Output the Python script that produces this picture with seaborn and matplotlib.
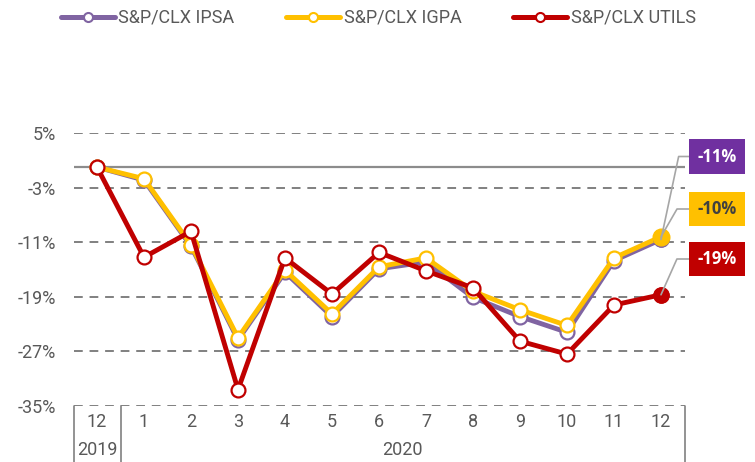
import numpy as np
import pandas as pd
import matplotlib
matplotlib.use("Agg")
import matplotlib.pyplot as plt
import matplotlib.transforms as mtransforms
import seaborn as sns

# ---- data ----
months = ["12", "1", "2", "3", "4", "5", "6", "7", "8", "9", "10", "11", "12"]
years = ["2019", "2020"]
ipsa = [0.0, -1.9, -11.6, -25.3, -15.4, -21.9, -14.9, -13.9, -19.1, -21.9, -24.2, -13.7, -10.6]
igpa = [0.0, -1.7, -11.4, -25.0, -15.1, -21.5, -14.6, -13.3, -18.2, -20.9, -23.2, -13.3, -10.2]
utils = [0.0, -13.2, -9.4, -32.6, -13.3, -18.6, -12.5, -15.2, -17.7, -25.5, -27.4, -20.2, -18.7]
series_names = ["S&P/CLX IPSA", "S&P/CLX IGPA", "S&P/CLX UTILS"]
end_labels = ["-11%", "-10%", "-19%"]
yticks = [5, -3, -11, -19, -27, -35]

line_colors = ["#8064A2", "#FFC000", "#C00000"]
box_colors = ["#7030A0", "#FFC000", "#C00000"]
box_text_colors = ["white", "#404040", "white"]

sns.set_theme(style="white")
plt.rcParams["font.family"] = ["Roboto", "DejaVu Sans"]
gray_txt = "#595959"

fig = plt.figure(figsize=(7.55, 4.62), dpi=100)
ax = fig.add_axes([73.5 / 755, 56 / 462, 611 / 755, 273 / 462])

x = np.arange(len(months))
df = pd.DataFrame({"x": x, "ipsa": ipsa, "igpa": igpa, "utils": utils})

# grid lines
for yt in yticks:
    ax.axhline(yt, color="#808080", lw=1.4, ls=(0, (4.5, 3.5)), zorder=0)
ax.axhline(0, color="#8C8C8C", lw=1.6, zorder=0.5)

handles = []
for col, name, c in zip(["ipsa", "igpa", "utils"], series_names, line_colors):
    sns.lineplot(data=df, x="x", y=col, ax=ax, color=c, lw=3.5, marker="o",
                 markersize=10, markerfacecolor="white", markeredgecolor=c,
                 markeredgewidth=1.6, zorder=3)
    last = df[col].iloc[-1]
    ax.plot([x[-1]], [last], "o", ms=12 if col == "igpa" else 11, color=c, zorder=4)
    h, = ax.plot([], [], color=c, lw=3.6, marker="o", ms=6.5, mfc="white", mec=c, mew=1.5)
    handles.append(h)

ax.set_xlim(-0.5, len(months) - 0.5)
ax.set_ylim(-35, 5)
ax.set_xlabel("")
ax.set_ylabel("")
ax.set_yticks(yticks)
ax.set_yticklabels([f"{v}%" for v in yticks], color=gray_txt, fontsize=13)
ax.set_xticks(x)
ax.set_xticklabels(months, color=gray_txt, fontsize=13)
ax.tick_params(axis="x", length=0, pad=5)
ax.tick_params(axis="y", length=0, pad=12.5)
for s in ax.spines.values():
    s.set_visible(False)

# category axis separators and year labels
trans = mtransforms.blended_transform_factory(ax.transData, ax.transAxes)
for xv in [-0.5, 0.5, len(months) - 0.5]:
    ax.plot([xv, xv], [0, -0.21], transform=trans, color="#808080", lw=1.2, clip_on=False)
ax.text(0, -0.163, years[0], transform=trans, ha="center", va="center",
        color=gray_txt, fontsize=13)
ax.text((1 + len(months) - 1) / 2, -0.163, years[1], transform=trans, ha="center",
        va="center", color=gray_txt, fontsize=13)

# end labels with leader lines
label_y = [1 - 156.5 / 462, 1 - 209 / 462, 1 - 259 / 462]
angles = [78, 60, 66]
for vals, lab, bc, tc, ly, ang in zip([ipsa, igpa, utils], end_labels, box_colors,
                                      box_text_colors, label_y, angles):
    ax.annotate(lab, xy=(x[-1], vals[-1]), xycoords="data",
                xytext=(717 / 755, ly), textcoords="figure fraction",
                ha="center", va="center", fontsize=12, fontweight="bold",
                color=tc, family=["Open Sans", "DejaVu Sans"],
                bbox=dict(boxstyle="square,pad=0.5", fc=bc, ec="none"),
                arrowprops=dict(arrowstyle="-", color="#A6A6A6", lw=1.2,
                                shrinkA=0, shrinkB=0,
                                connectionstyle=f"angle,angleA=0,angleB={ang},rad=0"),
                annotation_clip=False, zorder=5)

leg = fig.legend(handles, series_names, loc="center", bbox_to_anchor=(0.501, 1 - 18 / 462),
                 ncol=3, frameon=False, handlelength=3.0, handletextpad=0.2,
                 columnspacing=2.85, borderpad=0.2, prop={"family": "Roboto", "size": 13})
for t in leg.get_texts():
    t.set_color(gray_txt)

fig.savefig("out.png", dpi=100)
